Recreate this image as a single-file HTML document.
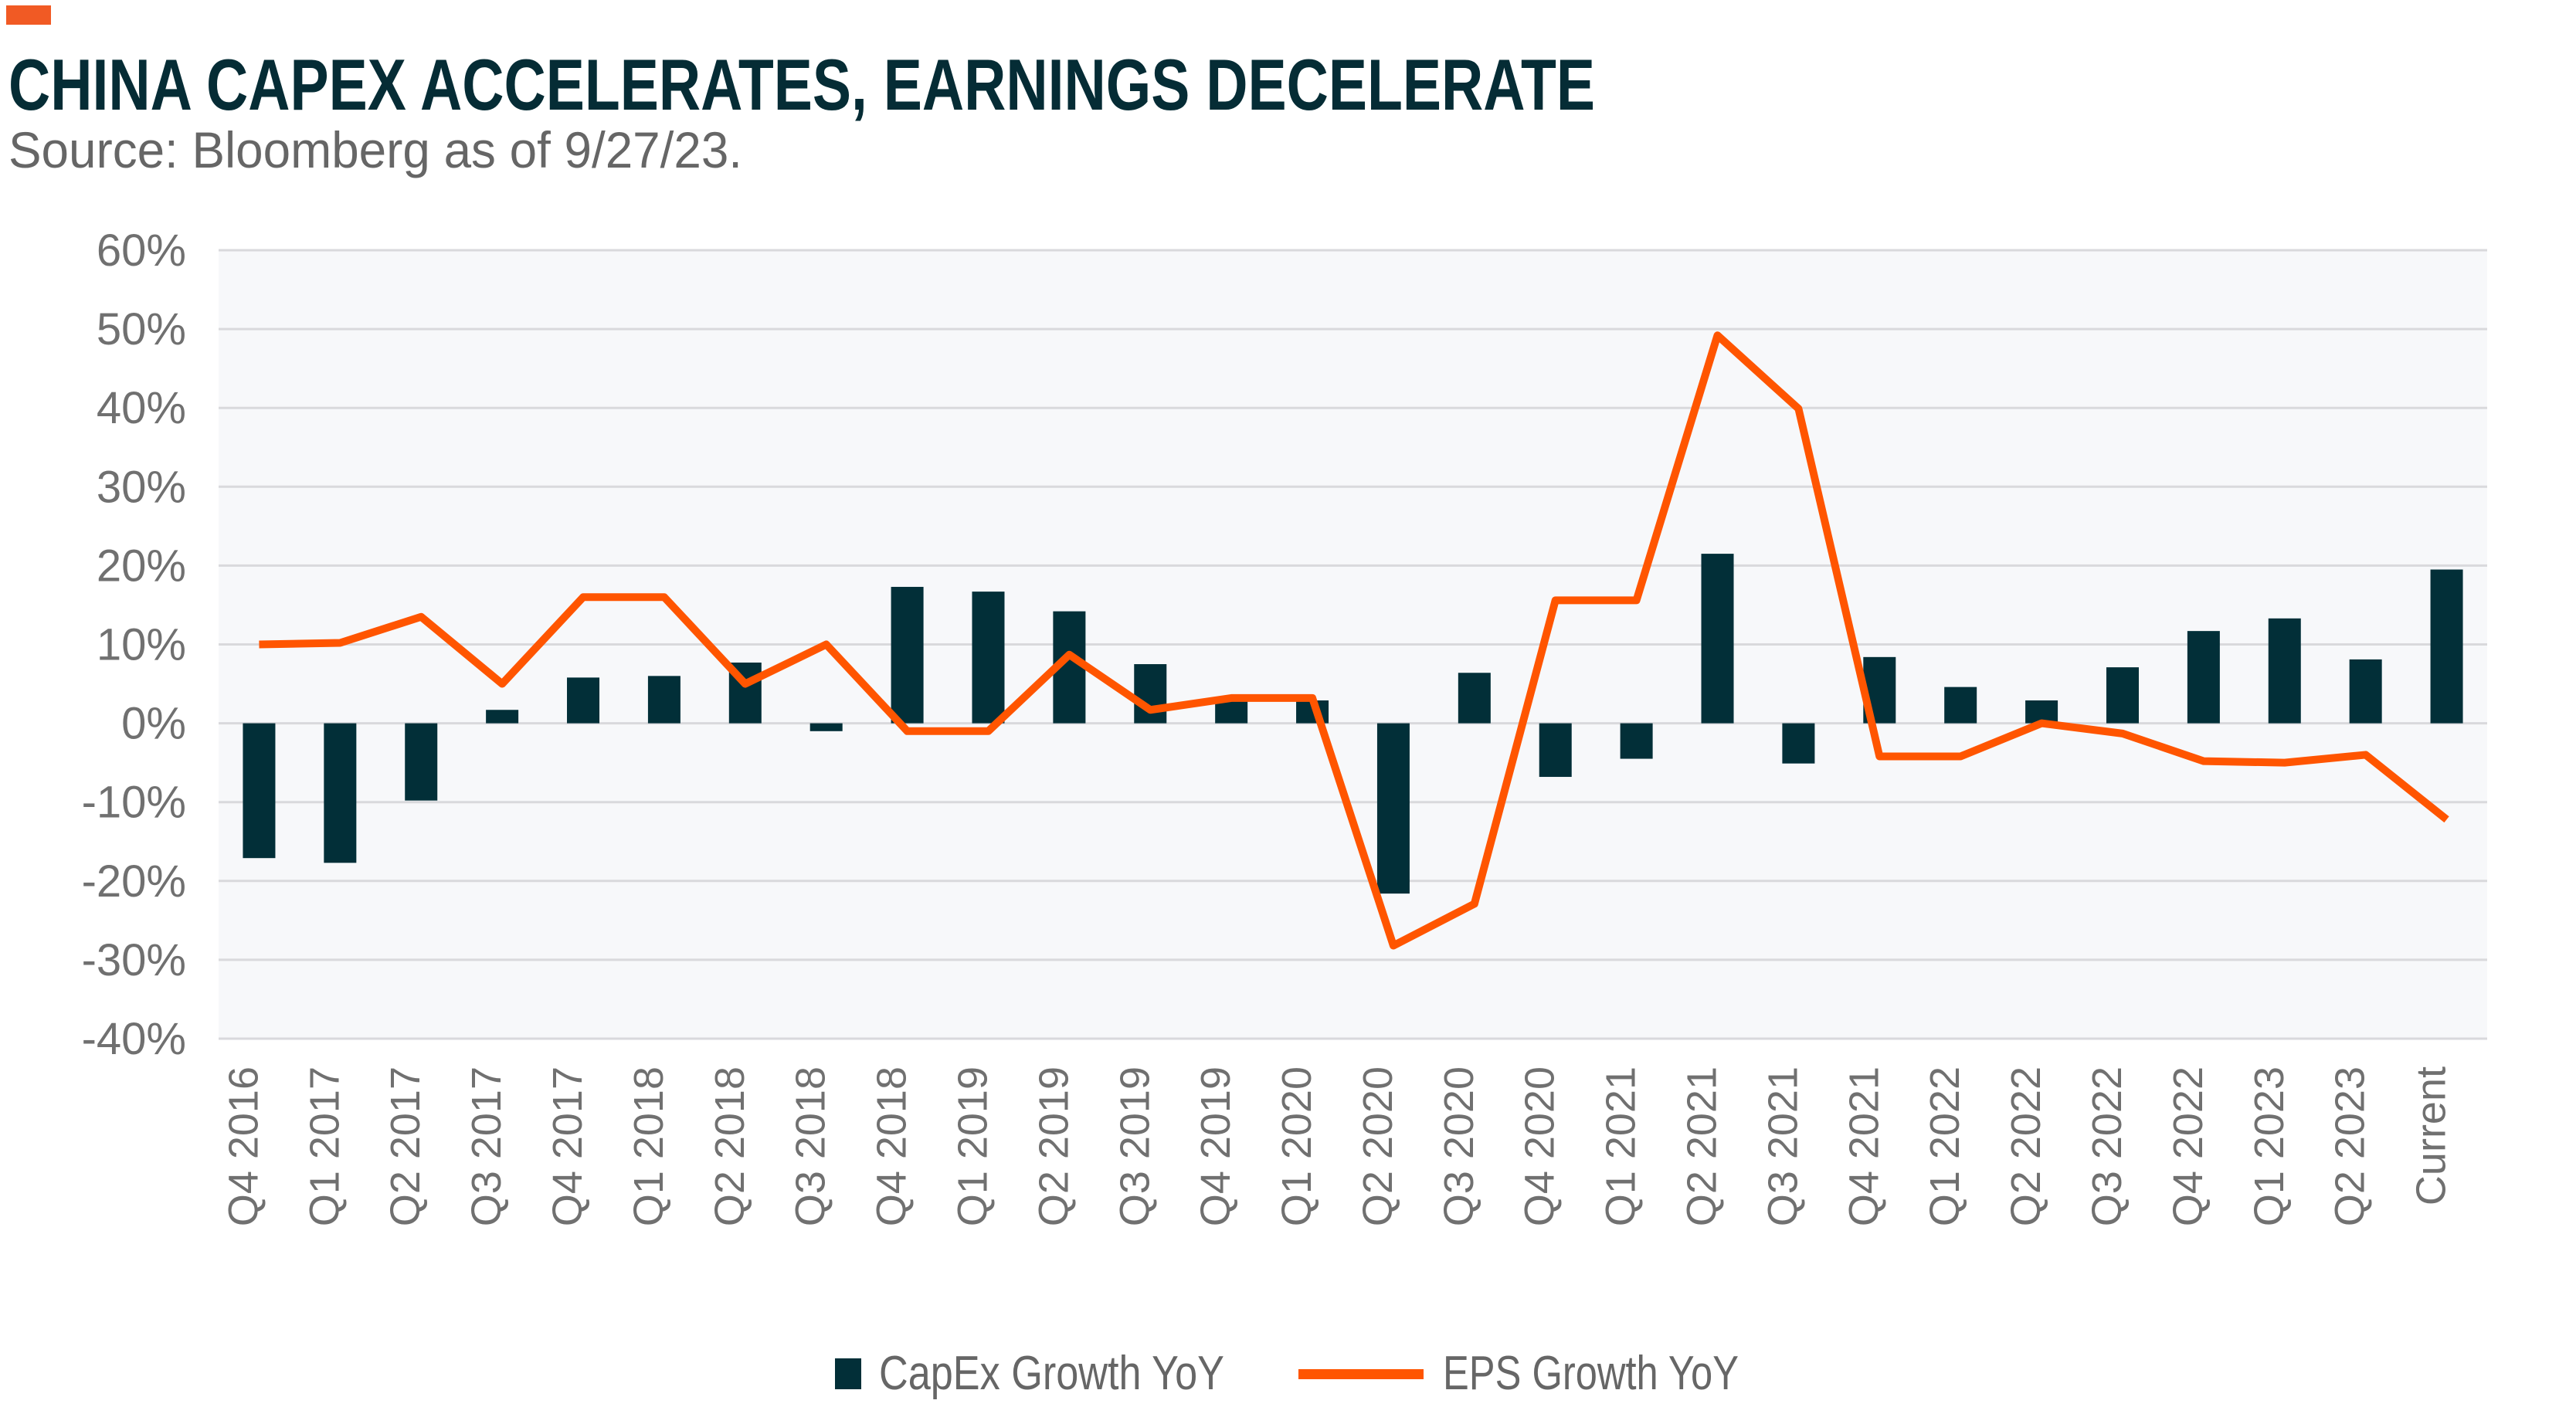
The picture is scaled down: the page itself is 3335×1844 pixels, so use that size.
<!DOCTYPE html>
<html><head><meta charset="utf-8"><style>
html,body{margin:0;padding:0;background:#fff;}
svg{display:block;font-family:"Liberation Sans",sans-serif;}
</style></head><body>
<svg id="chart" width="3335" height="1844" viewBox="0 0 3335 1844" xmlns="http://www.w3.org/2000/svg">
<rect x="8" y="7" width="58" height="25" fill="#f15a24"/>
<text x="11" y="142" font-size="94" font-weight="bold" fill="#052c35" textLength="2054" lengthAdjust="spacingAndGlyphs">CHINA CAPEX ACCELERATES, EARNINGS DECELERATE</text>
<text x="11" y="217" font-size="66" fill="#666" textLength="950" lengthAdjust="spacingAndGlyphs">Source: Bloomberg as of 9/27/23.</text>
<rect x="283" y="324" width="2937" height="1021" fill="#f7f8fa"/>
<g id="grid"></g><g id="ylabels"></g><g id="bars"></g><g id="line"></g><g id="xlabels"></g>
<g>
<rect x="1081" y="1759" width="34" height="40" fill="#022f38"/>
<text x="1138" y="1799" font-size="62" fill="#666" textLength="447" lengthAdjust="spacingAndGlyphs">CapEx Growth YoY</text>
<rect x="1681" y="1773" width="162" height="13" fill="#ff5500"/>
<text x="1868" y="1799" font-size="62" fill="#666" textLength="383" lengthAdjust="spacingAndGlyphs">EPS Growth YoY</text>
</g>
</svg>
<script>
const categories = ["Q4 2016","Q1 2017","Q2 2017","Q3 2017","Q4 2017","Q1 2018","Q2 2018","Q3 2018","Q4 2018","Q1 2019","Q2 2019","Q3 2019","Q4 2019","Q1 2020","Q2 2020","Q3 2020","Q4 2020","Q1 2021","Q2 2021","Q3 2021","Q4 2021","Q1 2022","Q2 2022","Q3 2022","Q4 2022","Q1 2023","Q2 2023","Current"];
const capex = [-17.1,-17.7,-9.8,1.7,5.8,6.0,7.7,-1.0,17.3,16.7,14.2,7.5,3.0,2.9,-21.6,6.4,-6.8,-4.5,21.5,-5.1,8.4,4.6,2.9,7.1,11.7,13.3,8.1,19.5];
const eps = [10.0,10.2,13.5,5.0,16.0,16.0,5.0,10.0,-1.0,-1.0,8.7,1.7,3.2,3.2,-28.2,-22.9,15.6,15.6,49.2,39.9,-4.2,-4.2,0,-1.3,-4.8,-5.0,-4.0,-12.2];
const yTicks = [60,50,40,30,20,10,0,-10,-20,-30,-40];
const NS="http://www.w3.org/2000/svg";
const X0=283,X1=3220,Y0=324,Y1=1345,YMAX=60,YMIN=-40;
const band=(X1-X0)/categories.length;
function xC(i){return X0+band*(i+0.5);}
function yS(v){return Y0+(YMAX-v)/(YMAX-YMIN)*(Y1-Y0);}
function mk(tag,attrs,parent){const e=document.createElementNS(NS,tag);for(const k in attrs)e.setAttribute(k,attrs[k]);parent.appendChild(e);return e;}
const grid=document.getElementById('grid'),yl=document.getElementById('ylabels');
yTicks.forEach(t=>{
  const l=mk('line',{x1:X0,x2:X1,y1:yS(t),y2:yS(t),stroke:'#d9d9dc','stroke-width':3},grid);
  
  
  const tx=mk('text',{x:241,y:yS(t)+20,'font-size':58,fill:'#707070','text-anchor':'end'},yl);
  tx.textContent=t+'%';
  
  
});
const bars=document.getElementById('bars');
capex.forEach((v,i)=>{
  const bw=42,y=Math.min(yS(v),yS(0)),h=Math.abs(yS(v)-yS(0));
  const r=mk('rect',{x:xC(i)-bw/2,y:y,width:bw,height:h,fill:'#022f38'},bars);
  
  
});
const pts=eps.map((v,i)=>xC(i)+','+yS(v)).join(' ');
const pl=mk('polyline',{points:pts,fill:'none',stroke:'#ff5500','stroke-width':10,'stroke-linejoin':'round'},document.getElementById('line'));


const xl=document.getElementById('xlabels');
categories.forEach((c,i)=>{
  const x=xC(i)-2,y=1381;
  const t=mk('text',{x:x,y:y,'font-size':54,fill:'#707070','text-anchor':'end',transform:`rotate(-90 ${x} ${y})`},xl);
  t.textContent=c;
  
  
});
</script>
</body></html>
